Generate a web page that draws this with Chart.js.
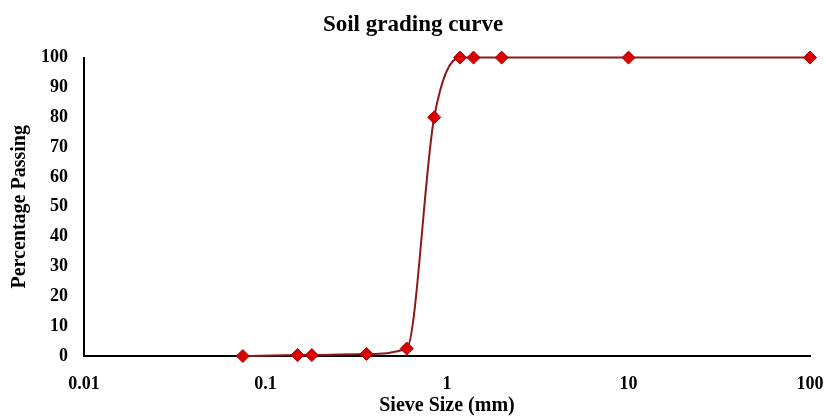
<!DOCTYPE html>
<html>
<head>
<meta charset="utf-8">
<script src="https://cdn.jsdelivr.net/npm/chart.js@4/dist/chart.umd.min.js"></script>
<style>
html,body{margin:0;padding:0;background:#fff;}
#wrap{width:826px;height:416px;position:relative;}
</style>
</head>
<body>
<div id="wrap"><canvas id="c" width="826" height="416"></canvas></div>
<script>
const sieveSizes = [0.075, 0.15, 0.18, 0.36, 0.6, 0.85, 1.18, 1.4, 2, 10, 100];
const percentPassing = [0, 0.3, 0.3, 0.7, 2.5, 80, 100, 100, 100, 100, 100];
const xTickValues = [0.01, 0.1, 1, 10, 100];
const yTickValues = [0, 10, 20, 30, 40, 50, 60, 70, 80, 90, 100];

const serif = "'Liberation Serif', 'Times New Roman', serif";
const points = sieveSizes.map((x, i) => ({x: x, y: percentPassing[i]}));

new Chart(document.getElementById('c'), {
  type: 'scatter',
  data: {
    datasets: [{
      data: points,
      showLine: true,
      borderColor: '#8B1A1A',
      borderWidth: 2,
      cubicInterpolationMode: 'monotone',
      pointStyle: 'rectRot',
      pointRadius: 6.5,
      pointHoverRadius: 6.5,
      pointBackgroundColor: '#D90000',
      pointBorderColor: '#B00000',
      pointBorderWidth: 1,
      clip: false
    }]
  },
  options: {
    responsive: false,
    animation: false,
    devicePixelRatio: 1,
    layout: {padding: {left: 0, right: 0, top: 0, bottom: 0}},
    plugins: {
      legend: {display: false},
      tooltip: {enabled: false},
      title: {
        display: true,
        text: 'Soil grading curve',
        color: '#000',
        font: {family: serif, size: 23, weight: 'bold', lineHeight: 1.2},
        padding: {top: 11, bottom: 19}
      }
    },
    scales: {
      x: {
        type: 'logarithmic',
        min: 0.01,
        max: 100,
        afterBuildTicks: (s) => { s.ticks = xTickValues.map(v => ({value: v})); },
        afterFit: (s) => { s.height = 60; s.paddingRight = 16; s.paddingLeft = 0; },
        grid: {display: false, drawTicks: false},
        border: {display: true, color: '#000', width: 2},
        ticks: {
          color: '#000',
          padding: 18,
          maxRotation: 0,
          autoSkip: false,
          font: {family: serif, size: 18, weight: 'bold'},
          callback: (v) => String(v)
        },
        title: {
          display: true,
          text: 'Sieve Size (mm)',
          color: '#000',
          font: {family: serif, size: 20, weight: 'bold', lineHeight: 1.0},
          padding: {top: 0, bottom: 0}
        }
      },
      y: {
        min: 0,
        max: 100,
        afterBuildTicks: (s) => { s.ticks = yTickValues.map(v => ({value: v})); },
        afterFit: (s) => { s.width = 84; },
        grid: {display: false, drawTicks: false},
        border: {display: true, color: '#000', width: 2},
        ticks: {
          color: '#000',
          padding: 16,
          font: {family: serif, size: 18, weight: 'bold'}
        },
        title: {
          display: true,
          text: 'Percentage Passing',
          color: '#000',
          font: {family: serif, size: 20, weight: 'bold', lineHeight: 1.0},
          padding: {top: 10, bottom: 0}
        }
      }
    }
  }
});
</script>
</body>
</html>
